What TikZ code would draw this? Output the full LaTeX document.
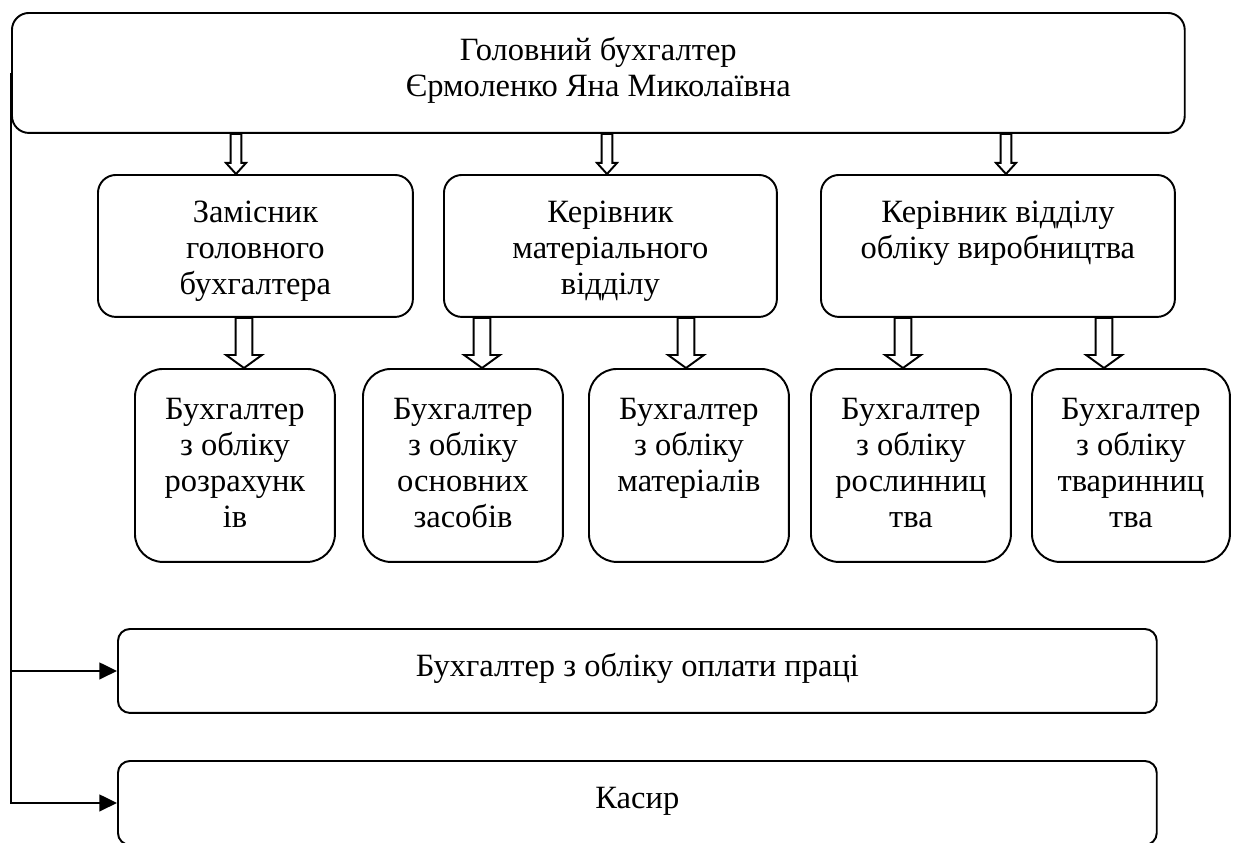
\documentclass[tikz,border=0pt]{standalone}
\usepackage{fontspec}
\setmainfont{Liberation Serif}
\usetikzlibrary{arrows.meta,calc}

% text of a box: top padding, fixed size, lines set from the top
\newcommand{\boxtext}[4][12.6pt]{\parbox[c][#3][t]{#2}{\centering\vspace*{#1}\strut #4}}

% hollow arrow: x, from node, to node, half shaft, half head, head length
\newcommand{\hollowarrow}[6]{%
  \draw[hollow] let \p1=(#1,0 |- #2.south), \p2=(#1,0 |- #3.north) in
    (\x1-#4,\y1) -- (\x1+#4,\y1) -- (\x1+#4,\y2+#6) -- (\x1+#5,\y2+#6)
    -- (\x1,\y2) -- (\x1-#5,\y2+#6) -- (\x1-#4,\y2+#6) -- cycle;
}

\begin{document}
\begin{tikzpicture}[x=0.02cm,y=-0.02cm,
    every node/.style={font=\fontsize{18.5pt}{20.6pt}\selectfont},
    box/.style={draw,line width=1.1pt,inner sep=0pt,anchor=north west},
    hollow/.style={draw,line width=1.1pt,fill=white},
    link/.style={line width=1.1pt,-{Triangle[length=10pt,width=9.5pt]}}]

    \useasboundingbox (0,0) rectangle (1237,842);
    \clip (0,0) rectangle (1237,842);

    % chief accountant
    \node[box,rounded corners=0.34cm] (chief) at (11,12)
        {\boxtext{23.46cm}{2.4cm}{Головний бухгалтер\\Єрмоленко Яна Миколаївна}};

    % heads
    \node[box,rounded corners=0.36cm] (deputy) at (97,174)
        {\boxtext{6.3cm}{2.84cm}{Замісник\\головного\\бухгалтера}};
    \node[box,rounded corners=0.36cm] (matdept) at (443,174)
        {\boxtext{6.66cm}{2.84cm}{Керівник\\матеріального\\відділу}};
    \node[box,rounded corners=0.36cm] (proddept) at (820,174)
        {\boxtext{7.08cm}{2.84cm}{Керівник відділу\\обліку виробництва}};

    % accountants
    \node[box,rounded corners=0.56cm] (calc) at (134,368)
        {\boxtext[14.2pt]{4cm}{3.86cm}{Бухгалтер\\з обліку\\розрахунк\\ів}};
    \node[box,rounded corners=0.56cm] (assets) at (362,368)
        {\boxtext[14.2pt]{4cm}{3.86cm}{Бухгалтер\\з обліку\\основних\\засобів}};
    \node[box,rounded corners=0.56cm] (materials) at (588,368)
        {\boxtext[14.2pt]{4cm}{3.86cm}{Бухгалтер\\з обліку\\матеріалів}};
    \node[box,rounded corners=0.56cm] (crops) at (810,368)
        {\boxtext[14.2pt]{4cm}{3.86cm}{Бухгалтер\\з обліку\\рослинниц\\тва}};
    \node[box,rounded corners=0.56cm] (cattle) at (1031,368)
        {\boxtext[14.2pt]{3.96cm}{3.86cm}{Бухгалтер\\з обліку\\тваринниц\\тва}};

    % payroll and cashier
    \node[box,rounded corners=0.24cm] (payroll) at (117,628)
        {\boxtext{20.78cm}{1.68cm}{Бухгалтер з обліку оплати праці}};
    \node[box,rounded corners=0.24cm] (cashier) at (117,760)
        {\boxtext{20.78cm}{1.68cm}{Касир}};

    % hollow arrows
    \hollowarrow{236}{chief}{deputy}{3.1pt}{5.7pt}{6.3pt}
    \hollowarrow{607}{chief}{matdept}{3.1pt}{5.7pt}{6.3pt}
    \hollowarrow{1006}{chief}{proddept}{3.1pt}{5.7pt}{6.3pt}

    \hollowarrow{244}{deputy}{calc}{4.8pt}{10.2pt}{7.4pt}
    \hollowarrow{482}{matdept}{assets}{4.8pt}{10.2pt}{7.4pt}
    \hollowarrow{686}{matdept}{materials}{4.8pt}{10.2pt}{7.4pt}
    \hollowarrow{903}{proddept}{crops}{4.8pt}{10.2pt}{7.4pt}
    \hollowarrow{1104}{proddept}{cattle}{4.8pt}{10.2pt}{7.4pt}

    % side line
    \draw[link] (chief.west) |- (payroll.west);
    \draw[link] (chief.west) |- (cashier.west);

\end{tikzpicture}
\end{document}
